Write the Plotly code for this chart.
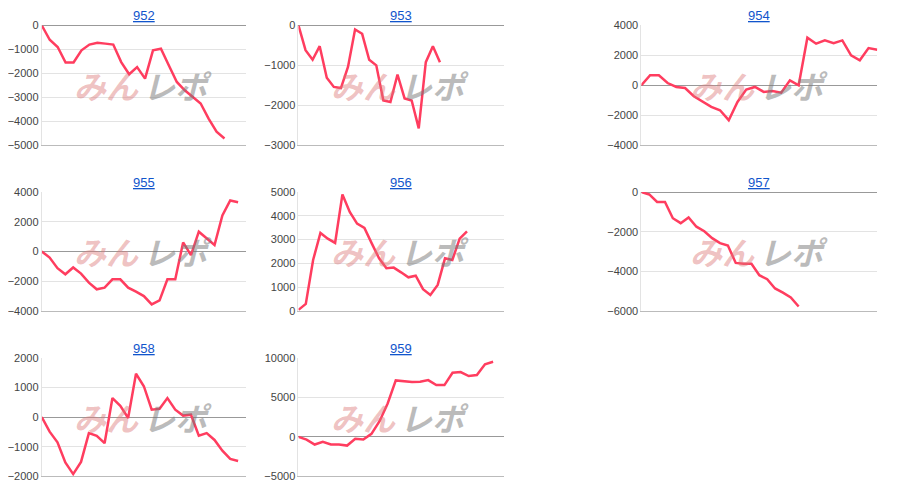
import plotly.graph_objects as go

titles = ["952", "953", "954", "955", "956", "957", "958", "959"]
s952 = [0,-600,-900,-1550,-1550,-1040,-800,-720,-760,-800,-1530,-2040,-1740,-2220,-1040,-970,-1670,-2360,-2710,-2990,-3260,-3890,-4440,-4720]
s953 = [0,-620,-860,-520,-1310,-1540,-1570,-1040,-100,-210,-860,-1000,-1880,-1920,-1230,-1830,-1880,-2580,-920,-520,-920]
s954 = [0,670,670,150,-110,-180,-730,-1110,-1440,-1670,-2330,-1110,-290,-110,-440,-380,-490,330,0,3180,2780,3000,2820,3000,2000,1670,2490,2380]
s955 = [0,-410,-1130,-1540,-1080,-1490,-2100,-2550,-2440,-1880,-1880,-2440,-2710,-3010,-3570,-3300,-1880,-1880,610,-250,1330,900,430,2420,3430,3320]
s956 = [40,290,2140,3280,3040,2860,4900,4160,3670,3490,2840,2210,1790,1820,1620,1410,1480,910,670,1090,2210,2140,3040,3350]
s957 = [0,-120,-500,-500,-1320,-1570,-1280,-1750,-1980,-2330,-2580,-2700,-3580,-3620,-3620,-4200,-4400,-4870,-5080,-5320,-5780]
s958 = [0,-490,-850,-1530,-1920,-1510,-540,-630,-880,640,380,-30,1460,1040,250,280,640,250,50,80,-630,-540,-770,-1130,-1410,-1480]
s959 = [0,-340,-970,-630,-970,-970,-1100,-250,-340,380,1980,4220,7130,7050,6920,6960,7170,6540,6540,8100,8190,7680,7810,9160,9490]
series = [s952, s953, s954, s955, s956, s957, s958, s959]
x_max = [25.7, 29, 27, 26, 28, 30, 26, 25.3]
y_ranges = [(-5000, 0), (-3000, 0), (-4000, 4000), (-4000, 4000), (0, 5000), (-6000, 0), (-2000, 2000), (-5000, 10000)]
y_dtick = [1000, 1000, 2000, 2000, 1000, 2000, 1000, 5000]

def px(v):
    return (v - 8) / 900

def py(v):
    p = (v - 13.55) / 0.978
    return 1 - p / 498

xdoms = [(px(34), px(240)), (px(293), px(500)), (px(639), px(877))]
ydoms = [(py(145), py(25)), (py(311), py(192)), (py(477), py(358))]

fig = go.Figure()
for i, (t, s) in enumerate(zip(titles, series)):
    r, c = divmod(i, 3)
    n = i + 1
    xa = "x" if n == 1 else f"x{n}"
    ya = "y" if n == 1 else f"y{n}"
    fig.add_trace(go.Scatter(x=list(range(len(s))), y=s, mode="lines",
                             line=dict(color="#ff3d5f", width=2.5), xaxis=xa, yaxis=ya,
                             showlegend=False, hoverinfo="skip"))
    fig.layout[f"xaxis{'' if n==1 else n}"] = dict(
        domain=xdoms[c], anchor=ya, range=[0, x_max[i]], showticklabels=False,
        showgrid=False, zeroline=False, showline=True, linecolor="#bbbbbb", linewidth=1,
        ticks="", fixedrange=True)
    fig.layout[f"yaxis{'' if n==1 else n}"] = dict(
        domain=ydoms[r], anchor=xa, range=list(y_ranges[i]), dtick=y_dtick[i],
        tickformat="d",
        showgrid=True, gridcolor="#e3e3e3", zeroline=True, zerolinecolor="#999999",
        zerolinewidth=1, showline=True, linecolor="#e3e3e3",
        tickfont=dict(family="Liberation Sans, Arial", size=11, color="#444444"),
        fixedrange=True)
    xm = (xdoms[c][0] + xdoms[c][1]) / 2
    fig.add_annotation(text=f"<u>{t}</u>", x=xm, y=ydoms[r][1], xref="paper", yref="paper",
                       xanchor="center", yanchor="bottom", showarrow=False, borderpad=0,
                       yshift=1,
                       font=dict(family="Liberation Sans, Arial", size=13, color="#1155cc"))
    ym = ydoms[r][0] + (ydoms[r][1] - ydoms[r][0]) * 0.5
    fig.add_annotation(text="<b><i>みん</i></b>", x=xm - 0.003, y=ym, xref="paper", yref="paper",
                       xanchor="right", yanchor="middle", showarrow=False,
                       font=dict(family="Noto Sans CJK JP", size=32, color="rgba(220,120,120,0.45)"))
    fig.add_annotation(text="<b><i>レポ</i></b>", x=xm - 0.003, y=ym, xref="paper", yref="paper",
                       xanchor="left", yanchor="middle", showarrow=False,
                       font=dict(family="Noto Sans CJK JP", size=32, color="rgba(120,120,120,0.5)"))

fig.update_layout(width=900, height=498, margin=dict(l=0, r=0, t=0, b=0),
                  paper_bgcolor="white", plot_bgcolor="white")
fig.write_html("out.html")
